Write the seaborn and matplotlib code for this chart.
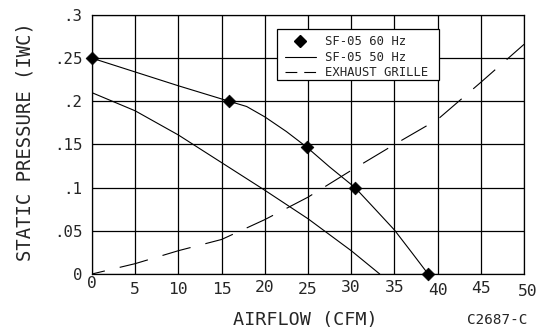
import numpy as np
import pandas as pd
import seaborn as sns
import matplotlib.pyplot as plt
from matplotlib.lines import Line2D
from matplotlib.patches import Rectangle
from matplotlib.transforms import ScaledTranslation

# Fan curve at 60 Hz (points along the curve) and its rated points
airflow_60 = [0, 5, 10, 15.9, 17.9, 20, 22.5, 24.85, 27.5, 30.45, 32.5, 35, 37, 38.9]
pressure_60 = [0.25, 0.234, 0.218, 0.2, 0.194, 0.182, 0.165, 0.147, 0.124, 0.1,
               0.078, 0.051, 0.025, 0.0]
rated_airflow_60 = [0, 15.9, 24.85, 30.45, 38.9]
rated_pressure_60 = [0.25, 0.2, 0.147, 0.1, 0.0]

# Fan curve at 50 Hz
airflow_50 = [0, 5, 10, 15, 20, 25, 30, 33.3]
pressure_50 = [0.21, 0.189, 0.161, 0.129, 0.097, 0.064, 0.027, 0.0]

# Exhaust grille system curve
airflow_grille = [0, 5, 10, 15, 20, 25, 30, 35, 40, 45, 50]
pressure_grille = [0, 0.012, 0.027, 0.040, 0.063, 0.089, 0.12, 0.15, 0.179, 0.222, 0.266]

x_ticks = [0, 5, 10, 15, 20, 25, 30, 35, 40, 45, 50]
x_tick_labels = ["0", "5", "10", "15", "20", "25", "30", "35", "40", "45", "50"]
y_ticks = [0, 0.05, 0.1, 0.15, 0.2, 0.25, 0.3]
y_tick_labels = ["0", ".05", ".1", ".15", ".2", ".25", ".3"]
series_labels = ["SF-05 60 Hz", "SF-05 50 Hz", "EXHAUST GRILLE"]

sns.set_style("white")
plt.rcParams["font.family"] = ["DejaVu Sans Mono", "DejaVu Sans"]
plt.rcParams["lines.scale_dashes"] = False

fig = plt.figure(figsize=(5.45, 3.31), dpi=100)
ax = fig.add_axes([0.1688, 0.1722, 0.7927, 0.7825])

lw = 0.8
grille_dash = (11.5, (21, 11))

sns.lineplot(x=airflow_60, y=pressure_60, ax=ax, color="black", lw=lw)
sns.scatterplot(x=rated_airflow_60, y=rated_pressure_60, ax=ax, color="black",
                marker="D", s=42, edgecolor="black", linewidth=0.5, zorder=5,
                clip_on=False)
sns.lineplot(x=airflow_50, y=pressure_50, ax=ax, color="black", lw=lw)
sns.lineplot(x=airflow_grille, y=pressure_grille, ax=ax, color="black", lw=lw,
             linestyle=grille_dash)

ax.set_xlim(0, 50)
ax.set_ylim(0, 0.3)

# grid
ax.set_xticks(x_ticks)
ax.set_yticks(y_ticks)
ax.grid(True, color="black", linewidth=0.9)
ax.set_axisbelow(True)
for sp in ax.spines.values():
    sp.set_color("black")
    sp.set_linewidth(0.9)

ax.set_yticklabels(y_tick_labels, fontsize=11.3)
ax.set_xticklabels(x_tick_labels, fontsize=11.8)
ax.tick_params(axis="both", length=0)
ax.tick_params(axis="y", pad=7)
ax.tick_params(axis="x", pad=1.5)

# staggered x labels (pixel offsets: dx, dy)
label_shift = [(0, 0), (0, 6), (0, 6), (0, 6), (0, 3.5), (0, 6), (0, 3.5),
               (0, 4), (0, 6.5), (0, 5), (4, 7.5)]
for lab, (dx, dy) in zip(ax.get_xticklabels(), label_shift):
    lab.set_transform(lab.get_transform() +
                      ScaledTranslation(dx / 100, -dy / 100, fig.dpi_scale_trans))

ax.set_xlabel("")
ax.set_ylabel("")
fig.text(25 / 545, 1 - 142 / 331, "STATIC PRESSURE (IWC)", rotation=90,
         ha="center", va="center", fontsize=13.6)
fig.text(305 / 545, 1 - 320 / 331, "AIRFLOW (CFM)", ha="center", va="center",
         fontsize=13.3)
fig.text(497 / 545, 1 - 320 / 331, "C2687-C", ha="center", va="center",
         fontsize=10.3)

# legend: entries without frame, boxed by a separate rectangle
handles = [
    Line2D([], [], color="black", marker="D", markersize=6.3, linestyle="none"),
    Line2D([], [], color="black", lw=lw),
    Line2D([], [], color="black", lw=lw, linestyle=(0, (8.5, 5))),
]
leg = ax.legend(handles, series_labels, loc="upper left",
                bbox_to_anchor=(0.4468, 0.921), borderaxespad=0, fontsize=8.8,
                frameon=False, handlelength=2.5, handletextpad=0.8,
                labelspacing=0.2, borderpad=0)
leg.set_zorder(6)
ax.add_patch(Rectangle((0.4282, 0.749), 0.375, 0.1969, transform=ax.transAxes,
                       facecolor="white", edgecolor="black", linewidth=0.9,
                       zorder=5.5))

fig.savefig("out.png", dpi=100)
